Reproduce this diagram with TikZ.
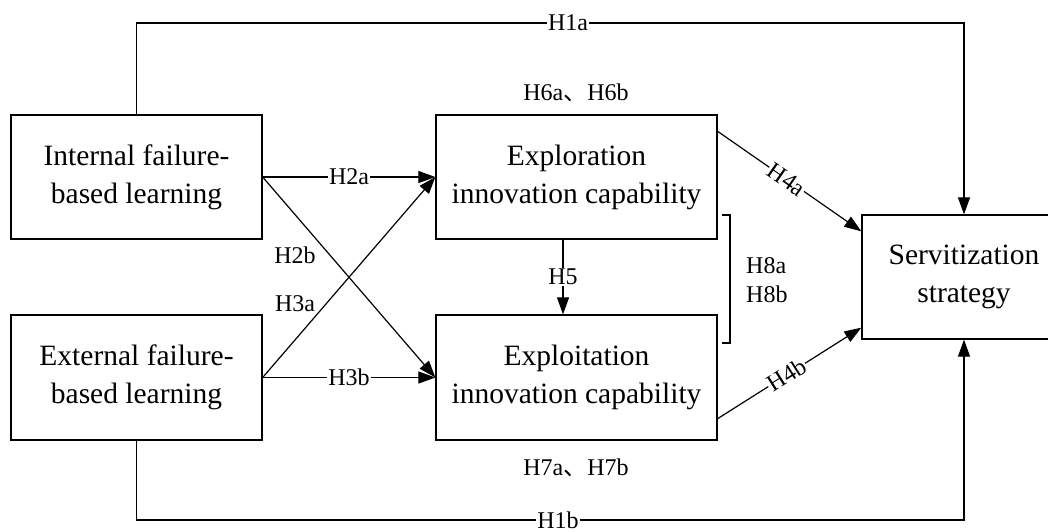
\documentclass[tikz,border=0pt]{standalone}
\usepackage{fontspec}
\setmainfont{Liberation Serif}
\newfontfamily\cjk{Noto Sans CJK SC}
\usetikzlibrary{arrows.meta}
\tikzset{
  box/.style={draw, line width=1.3pt, align=center, inner sep=0pt,
    font=\fontsize{29.5}{38}\selectfont},
  lab/.style={font=\fontsize{24}{29}\selectfont, inner sep=1pt},
  wlab/.style={lab, fill=white},
  conn/.style={line width=1.2pt},
  arr/.style={conn, -{Triangle[length=17pt,width=12pt]}},
}
\begin{document}
\begin{tikzpicture}[x=1pt,y=-1pt]
\useasboundingbox (0,0) rectangle (1048,532);
% boxes
\node[box, minimum width=251pt, minimum height=124pt] (int) at (136.5,177) {Internal failure-\\based learning};
\node[box, minimum width=251pt, minimum height=125pt] (ext) at (136.5,377.5) {External failure-\\based learning};
\node[box, minimum width=281pt, minimum height=124pt] (explor) at (576.5,177) {Exploration\\innovation capability};
\node[box, minimum width=281pt, minimum height=125pt] (exploit) at (576.5,377.5) {Exploitation\\innovation capability};
\node[box, minimum width=204pt, minimum height=124pt] (serv) at (964,277) {Servitization\\strategy};
% H1a / H1b
\coordinate (topmid) at (568,23);
\coordinate (botmid) at (558,520);
\draw[arr] (int.north) |- (topmid) -| (serv.north);
\node[wlab] (h1a) at (topmid) {H1a};
\draw[arr] (ext.south) |- (botmid) -| (serv.south);
\node[wlab, inner ysep=0pt] (h1b) at (botmid) {H1b};
% H2a, H3b
\draw[arr] (int.east) -- node[wlab] (h2a) {H2a} (explor.west);
\draw[arr] (ext.east) -- node[wlab] (h3b) {H3b} (exploit.west);
% cross
\draw[arr] (int.east) -- (exploit.west);
\draw[arr] (ext.east) -- (explor.west);
\node[lab] (h2b) at (295,255) {H2b};
\node[lab] (h3a) at (295,304) {H3a};
% H5
\coordinate (h5s) at ([xshift=-13.5pt]explor.south);
\coordinate (h5e) at ([xshift=-13.5pt]exploit.north);
\draw[arr] (h5s) -- node[wlab] (h5) {H5} (h5e);
% H4a, H4b
\coordinate (h4as) at ([yshift=-17pt]explor.north east);
\coordinate (h4ae) at ([yshift=-17pt]serv.north west);
\draw[arr] (h4as) -- node[wlab, sloped, pos=0.48] (h4a) {H4a} (h4ae);
\coordinate (h4bs) at ([yshift=22pt]exploit.south east);
\coordinate (h4be) at ([yshift=12pt]serv.south west);
\draw[arr] (h4bs) -- node[wlab, sloped, pos=0.48] (h4b) {H4b} (h4be);
% bracket
\coordinate (b1) at (722,215);
\coordinate (b2) at (730,215);
\coordinate (b3) at (730,343);
\coordinate (b4) at (722,343);
\draw[conn] (b1) -- (b2) -- (b3) -- (b4);
\node[lab, align=left, anchor=west] (h8) at (745,280) {H8a\\H8b};
% H6, H7
\node[lab] (h6) at (576,93) {H6a{\cjk 、}H6b};
\node[lab] (h7) at (576,468) {H7a{\cjk 、}H7b};
\end{tikzpicture}
\end{document}
